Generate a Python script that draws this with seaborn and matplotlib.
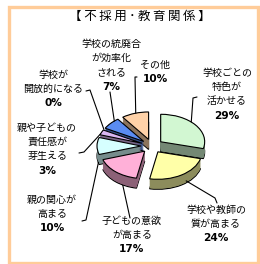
import numpy as np
import matplotlib
matplotlib.use("Agg")
import matplotlib.pyplot as plt
import seaborn as sns
from matplotlib.patches import Rectangle
from matplotlib.lines import Line2D
from matplotlib.colors import to_rgb

# ---------------- data ----------------
title = "【 不採用･教育関係 】"
categories = [
    "学校ごとの\n特色が\n活かせる",
    "学校や教師の\n質が高まる",
    "子どもの意欲\nが高まる",
    "親の関心が\n高まる",
    "親や子どもの\n責任感が\n芽生える",
    "学校が\n開放的になる",
    "学校の統廃合\nが効率化\nされる",
    "その他",
]
values = [29, 24, 17, 10, 3, 0, 7, 10]
colors = ["#D2F7D2", "#FFFFA8", "#FFB0D8", "#D6FFFF", "#DAB6F2", "#FFFFFF", "#5A8CF2", "#FFD2A8"]

# ---------------- layout ----------------
W, H = 260, 264
sns.set_theme(style="white")
plt.rcParams["font.family"] = ["Noto Sans CJK JP", "DejaVu Sans"]

fig = plt.figure(figsize=(W / 100, H / 100), dpi=100)
fig.patch.set_facecolor("white")
fig.patches.append(Rectangle((8.5, 1.5), 249, 256, transform=None, fill=False,
                             edgecolor="#FFCC99", linewidth=2.4))

inner = title[2:-2]
spaced_title = title[:2] + "\u2009".join(inner) + title[-2:]
fig.text(140 / W, 1 - 16 / H, spaced_title, ha="center", va="center", fontsize=9,
         color="black", family=["Noto Sans CJK JP", "DejaVu Sans"])

# pie axes
cx, cy, Rx, Ry = 152, 146, 44, 27.5
L = 1.6
ax = fig.add_axes([(cx - L * Rx) / W, (H - cy - L * Ry) / H, 2 * L * Rx / W, 2 * L * Ry / H])

explode_r = 0.25
explode = [explode_r] * len(values)
depth = 10 / Ry
nlayers = 16

total = sum(values)
angles = []
a = 90.0
for v in values:
    span = 360.0 * v / total
    angles.append((a, a - span))
    a -= span
mids = [np.deg2rad((s + e) / 2) for s, e in angles]
order = np.argsort([-np.sin(m) for m in mids])
rank = {i: r for r, i in enumerate(order)}

def darker(c, f=0.5):
    r, g, b = to_rgb(c)
    return (r * f, g * f, b * f)

side_colors = [darker(c, 0.55) for c in colors]

for k in range(nlayers + 1):
    d = depth * (1 - k / nlayers)
    wedges, _ = ax.pie(values, explode=explode, colors=side_colors, startangle=90,
                       counterclock=False, center=(0, -d), radius=1.0,
                       wedgeprops=dict(linewidth=0.8 if k == 0 else 0,
                                       edgecolor="black"))
    for i, w in enumerate(wedges):
        w.set_zorder(10 + rank[i] * 2 + k * 0.001)
        if values[i] == 0:
            w.set_visible(False)

wedges, _ = ax.pie(values, explode=explode, colors=colors, startangle=90,
                   counterclock=False, center=(0, 0), radius=1.0,
                   wedgeprops=dict(linewidth=0.8, edgecolor="black"))
for i, w in enumerate(wedges):
    w.set_zorder(11 + rank[i] * 2)
    if values[i] == 0:
        w.set_visible(False)

ax.set_aspect("auto")
ax.set_xlim(-L, L)
ax.set_ylim(-L, L)
ax.axis("off")

# ---------------- labels ----------------
# (centre x, first line y, anchor angle deg, anchor depth fraction, leader bends)
label_layout = [
    (227, 73, 46, 0.0, [(197, 97), (193, 98)]),
    (216, 210, -50, -0.8, [(217, 203), (215, 198)]),
    (132, 221, -120, -1.0, [(130, 218)]),
    (52, 200, -165, -0.9, [(82, 221), (86, 220)]),
    (47, 128, 160, 0.0, [(79, 153), (84, 152)]),
    (53, 75, 151, 0.0, [(86, 91), (90, 90)]),
    (111, 44, 132, 0.0, [(110, 92)]),
    (155, 65, 107, 0.0, [(137, 77), (135, 77)]),
]
spacing = 14.2
for i, (tx, ty, ang, zf, bends) in enumerate(label_layout):
    lines = categories[i].split("\n")
    for j, ln in enumerate(lines):
        fig.text(tx / W, 1 - (ty + j * spacing) / H, ln, ha="center", va="center",
                 fontsize=7.2, color="black")
    fig.text(tx / W, 1 - (ty + len(lines) * spacing) / H, f"{values[i]}%",
             ha="center", va="center", fontsize=7.6, fontweight="bold",
             family="DejaVu Sans", color="black")
    th = np.deg2rad(ang)
    xd = np.cos(th) + explode_r * np.cos(mids[i])
    yd = np.sin(th) + explode_r * np.sin(mids[i]) + zf * depth
    px, py = ax.transData.transform((xd, yd))
    xs = [b[0] for b in bends] + [px]
    ys = [H - b[1] for b in bends] + [py]
    fig.add_artist(Line2D(xs, ys, transform=None, color="black", linewidth=0.8, zorder=50))

fig.savefig("out.png", dpi=100, facecolor="white")
